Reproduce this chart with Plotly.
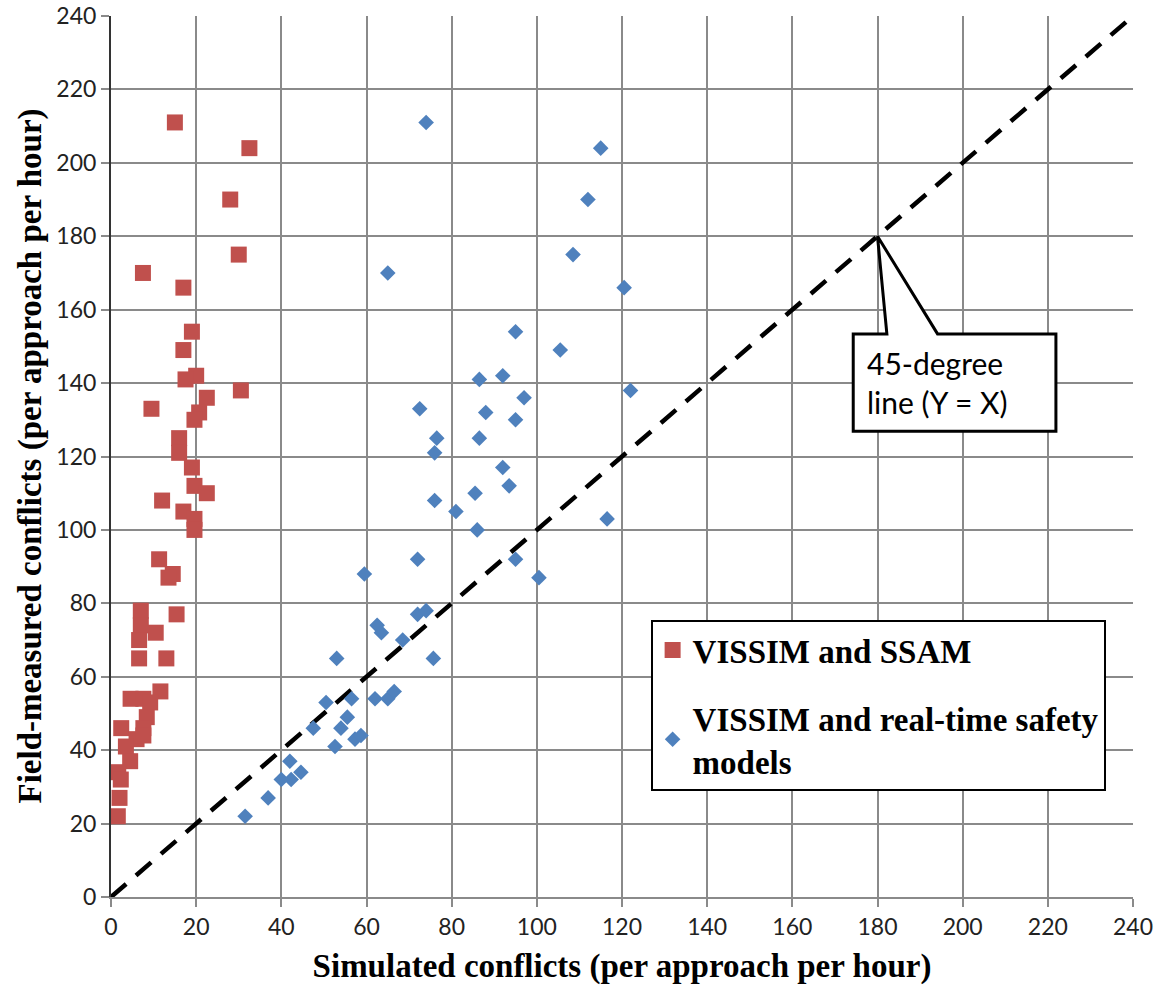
import plotly.graph_objects as go

# VISSIM and SSAM (simulated, field-measured)
red_x = [15, 32.5, 28, 30, 7.5, 17, 19, 17, 20, 17.5, 30.5, 22.5, 9.5, 20.7, 19.6, 16, 16, 19,
         19.6, 22.5, 12, 17, 19.6, 19.6, 11.3, 14.5, 13.5, 7, 15.4, 7, 10.5, 6.6, 6.6, 13, 11.6,
         4.6, 7.6, 9.2, 8.4, 7.6, 2.4, 6, 7.6, 3.5, 4.5, 1.7, 2.3, 2, 1.6]
red_y = [211, 204, 190, 175, 170, 166, 154, 149, 142, 141, 138, 136, 133, 132, 130, 125, 121, 117,
         112, 110, 108, 105, 103, 100, 92, 88, 87, 78, 77, 74, 72, 70, 65, 65, 56,
         54, 54, 53, 49, 46, 46, 43, 44, 41, 37, 34, 32, 27, 22]

# VISSIM and real-time safety models
blue_x = [74, 115, 112, 108.5, 65, 120.5, 95, 105.5, 86.5, 92, 122, 97, 72.5, 88, 95, 76.5, 86.5,
          76, 92, 93.5, 85.5, 76, 81, 116.5, 86, 72, 95, 100.5, 59.5, 72, 74, 75.7, 62.5, 63.5,
          68.5, 53, 50.5, 56.5, 62, 65, 66.5, 47.5, 55.5, 54, 57.3, 58.7, 52.6, 42, 44.6, 42.3,
          40, 36.9, 31.5]
blue_y = [211, 204, 190, 175, 170, 166, 154, 149, 141, 142, 138, 136, 133, 132, 130, 125, 125,
          121, 117, 112, 110, 108, 105, 103, 100, 92, 92, 87, 88, 77, 78, 65, 74, 72,
          70, 65, 53, 54, 54, 54, 56, 46, 49, 46, 43, 44, 41, 37, 34, 32,
          32, 27, 22]

ref_line = [0, 240]
ticks = list(range(0, 241, 20))

fig = go.Figure()
fig.add_trace(go.Scatter(x=ref_line, y=ref_line, mode="lines", showlegend=False,
                         line=dict(color="black", width=4.5, dash="20px,13px"), hoverinfo="skip"))
fig.add_trace(go.Scatter(x=red_x, y=red_y, mode="markers", name="VISSIM and SSAM",
                         legendgroup="a",
                         marker=dict(symbol="square", size=16, color="#C0504D")))
fig.add_trace(go.Scatter(x=blue_x, y=blue_y, mode="markers",
                         name="VISSIM and real-time safety<br>models",
                         legendgroup="b",
                         marker=dict(symbol="diamond", size=12, color="#4F81BD")))

# callout box for the 45-degree line
fig.add_shape(type="path",
              path="M 174.3,153.4 L 182.2,153.4 L 180,180 L 194.1,153.4 L 221.9,153.4 "
                   "L 221.9,126.9 L 174.3,126.9 Z",
              xref="x", yref="y", fillcolor="white", line=dict(color="black", width=3),
              layer="above")
fig.add_annotation(x=177.0, y=140.2, xref="x", yref="y", text="45-degree<br>line (Y = X)",
                   showarrow=False, xanchor="left", yanchor="middle", align="left",
                   font=dict(family="Lato", size=30, color="black"))

# y-axis title placed as a rotated annotation
fig.add_annotation(x=-81 / 1022, y=0.5, xref="paper", yref="paper",
                   text="Field-measured conflicts (per approach per hour)",
                   textangle=-90, showarrow=False, xanchor="center", yanchor="middle",
                   font=dict(family="Liberation Serif", size=33, color="black", weight="bold"))

axis_common = dict(range=[0, 240], tickvals=ticks, showgrid=True, gridcolor="#8a8a8a",
                   gridwidth=1.5, zeroline=False, ticks="outside", ticklen=8,
                   tickcolor="#8a8a8a", tickwidth=1.5, automargin=False,
                   ticklabeloverflow="allow",
                   tickfont=dict(family="Lato", size=23, color="#222"),
                   mirror=False)

fig.update_xaxes(**axis_common, showline=True, linecolor="#8a8a8a", linewidth=2,
                 title=dict(text="Simulated conflicts (per approach per hour)",
                            font=dict(family="Liberation Serif", size=33, color="black",
                                      weight="bold")))
fig.update_yaxes(**axis_common, showline=True, linecolor="#333", linewidth=2)

fig.update_layout(
    width=1156, height=990,
    margin=dict(l=111, r=23, t=16, b=93),
    plot_bgcolor="white", paper_bgcolor="white",
    legend=dict(x=0.528, y=0.3144, xanchor="left", yanchor="top",
                bgcolor="white", bordercolor="black", borderwidth=2,
                font=dict(family="Liberation Serif", size=33, color="black", weight="bold"),
                tracegroupgap=22, itemsizing="trace"),
)

# remove the browser's default 8px body margin so the figure fills the window exactly
fig.write_html("out.html", config={"displayModeBar": False},
               post_script="document.body.style.margin='0';")
